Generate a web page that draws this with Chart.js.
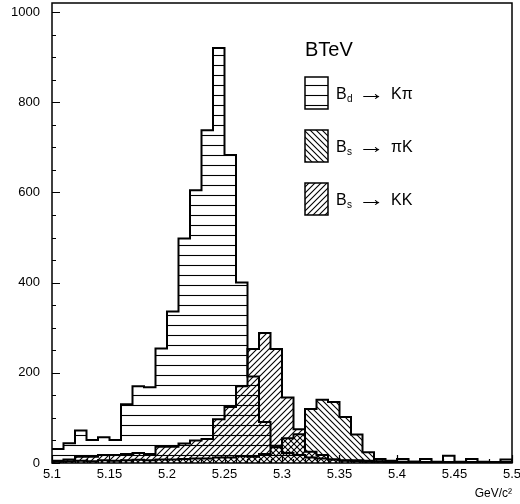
<!DOCTYPE html>
<html>
<head>
<meta charset="utf-8">
<script src="https://cdn.jsdelivr.net/npm/chart.js@4"></script>
<style>
  html, body { margin: 0; padding: 0; background: #fff; }
  #wrap { width: 520px; height: 504px; position: relative; }
</style>
</head>
<body>
<div id="wrap"><canvas id="massPlot"></canvas></div>
<script>
// lower edges of the 0.01 GeV/c^2 bins
const binLow = [5.10, 5.11, 5.12, 5.13, 5.14, 5.15, 5.16, 5.17, 5.18, 5.19,
                5.20, 5.21, 5.22, 5.23, 5.24, 5.25, 5.26, 5.27, 5.28, 5.29,
                5.30, 5.31, 5.32, 5.33, 5.34, 5.35, 5.36, 5.37, 5.38, 5.39,
                5.40, 5.41, 5.42, 5.43, 5.44, 5.45, 5.46, 5.47, 5.48, 5.49];
const binHigh = 5.50;

// Bd -> K pi
const bdKpi = [31, 44, 72, 51, 57, 51, 130, 170, 168, 254,
               336, 498, 605, 738, 920, 683, 400, 192, 91, 38,
               22, 18, 12, 10, 8, 5, 6, 5, 4, 3,
               9, 3, 9, 3, 16, 3, 9, 3, 2, 8];
// Bs -> pi K
const bsPiK = [3, 4, 5, 4, 6, 5, 6, 7, 6, 8,
               8, 9, 10, 10, 12, 12, 15, 14, 20, 35,
               55, 64, 120, 140, 135, 102, 63, 24, 9, 5,
               3, 3, 2, 2, 2, 1, 2, 1, 1, 2];
// Bs -> K K
const bsKK = [5, 8, 14, 14, 18, 18, 20, 22, 20, 36,
              36, 43, 50, 53, 97, 124, 170, 253, 288, 253,
              145, 75, 25, 18, 8, 6, 4, 3, 3, 2,
              2, 2, 1, 2, 1, 1, 1, 1, 1, 1];

const xTickValues = [5.1, 5.15, 5.2, 5.25, 5.3, 5.35, 5.4, 5.45, 5.5];
const xTickLabels = ['5.1', '5.15', '5.2', '5.25', '5.3', '5.35', '5.4', '5.45', '5.5'];
const yTickValues = [0, 200, 400, 600, 800, 1000];
const yTickLabels = ['0', '200', '400', '600', '800', '1000'];

const legendTitle = 'BTeV';
const legendParent = ['B', 'B', 'B'];
const legendSub = ['d', 's', 's'];
const legendFinal = ['K\u03c0', '\u03c0K', 'KK'];

const FONT = '"Liberation Sans", Arial, Helvetica, sans-serif';

// hatch fills, transparent so overlaps cross
function makeHatch(kind) {
  const s = kind === 'horiz' ? 10 : 6;
  const c = document.createElement('canvas');
  c.width = s; c.height = s;
  const g = c.getContext('2d');
  g.strokeStyle = '#000';
  g.lineWidth = 1.1;
  g.beginPath();
  if (kind === 'horiz') {
    g.moveTo(0, 5.5); g.lineTo(s, 5.5);
  } else if (kind === 'fwd') {
    g.moveTo(-2, s + 2); g.lineTo(s + 2, -2);
    g.moveTo(-2, 2); g.lineTo(2, -2);
    g.moveTo(s - 2, s + 2); g.lineTo(s + 2, s - 2);
  } else {
    g.moveTo(-2, -2); g.lineTo(s + 2, s + 2);
    g.moveTo(s - 2, -2); g.lineTo(s + 2, 2);
    g.moveTo(-2, s - 2); g.lineTo(2, s + 2);
  }
  g.stroke();
  return g.createPattern(c, 'repeat');
}

const hatchHoriz = makeHatch('horiz');
const hatchBack = makeHatch('back');
const hatchFwd = makeHatch('fwd');
const legendHatch = [hatchHoriz, hatchBack, hatchFwd];

function stepPoints(vals) {
  const pts = binLow.map((x, i) => ({ x: x, y: vals[i] }));
  pts.push({ x: binHigh, y: 0 });
  return pts;
}

function histo(label, vals, pattern) {
  return {
    label: label,
    data: stepPoints(vals),
    stepped: true,
    fill: 'origin',
    backgroundColor: pattern,
    borderColor: '#000',
    borderWidth: 2,
    pointRadius: 0,
    tension: 0
  };
}

// frame, inward ticks and legend box
const decorations = {
  id: 'decorations',
  afterDatasetsDraw(chart) {
    const ctx = chart.ctx;
    const a = chart.chartArea;
    const xs = chart.scales.x, ys = chart.scales.y;
    ctx.save();
    ctx.strokeStyle = '#000';
    ctx.lineWidth = 1.5;
    ctx.strokeRect(a.left, a.top, a.right - a.left, a.bottom - a.top);

    ctx.lineWidth = 1.2;
    ctx.beginPath();
    for (let v = 0; v <= 1000; v += 50) {
      const y = Math.round(ys.getPixelForValue(v)) + 0.5;
      const len = yTickValues.includes(v) ? 8 : 4;
      ctx.moveTo(a.left, y); ctx.lineTo(a.left + len, y);
    }
    for (let k = 0; k <= 40; k++) {
      const x = Math.round(xs.getPixelForValue(5.1 + k * 0.01)) + 0.5;
      const len = k % 5 === 0 ? 8 : 4;
      ctx.moveTo(x, a.bottom); ctx.lineTo(x, a.bottom - len);
    }
    ctx.stroke();

    // legend
    ctx.fillStyle = '#000';
    ctx.textBaseline = 'alphabetic';
    ctx.textAlign = 'left';
    ctx.font = '20px ' + FONT;
    ctx.fillText(legendTitle, 305, 56);

    for (let i = 0; i < legendFinal.length; i++) {
      const top = 77 + i * 53;
      const cy = top + 16;
      ctx.fillStyle = legendHatch[i];
      ctx.fillRect(305, top, 23, 32);
      ctx.lineWidth = 1.5;
      ctx.strokeRect(305, top, 23, 32);
      ctx.fillStyle = '#000';
      ctx.font = '16px ' + FONT;
      ctx.fillText(legendParent[i], 336, cy + 6);
      ctx.font = '10px ' + FONT;
      ctx.fillText(legendSub[i], 347, cy + 8.5);
      ctx.font = '22px ' + FONT;
      const arrow = '\u2192';
      const w = ctx.measureText(arrow).width;
      ctx.save();
      ctx.translate(358, cy + 7);
      ctx.scale(27 / w, 1);
      ctx.fillText(arrow, 0, 0);
      ctx.restore();
      ctx.font = '16px ' + FONT;
      ctx.fillText(legendFinal[i], 391, cy + 6);
    }
    ctx.restore();
  }
};

Chart.defaults.font.family = FONT;
Chart.defaults.color = '#000';

new Chart(document.getElementById('massPlot'), {
  type: 'line',
  data: {
    datasets: [
      histo('Bd \u2192 K\u03c0', bdKpi, hatchHoriz),
      histo('Bs \u2192 \u03c0K', bsPiK, hatchBack),
      histo('Bs \u2192 KK', bsKK, hatchFwd)
    ]
  },
  options: {
    responsive: true,
    maintainAspectRatio: false,
    animation: false,
    layout: { padding: { top: 3, right: 8, left: 0, bottom: 0 } },
    plugins: {
      legend: { display: false },
      tooltip: { enabled: false }
    },
    scales: {
      x: {
        type: 'linear',
        min: 5.1,
        max: 5.5,
        grid: { display: false, drawTicks: false },
        border: { display: false },
        afterBuildTicks: s => { s.ticks = xTickValues.map(v => ({ value: v })); },
        afterFit: s => {
          s.height = 41;
          s.paddingLeft = 0; s.paddingRight = 0;
        },
        ticks: {
          padding: 4,
          maxRotation: 0,
          autoSkip: false,
          font: { size: 13 },
          callback: (v, i) => xTickLabels[i]
        },
        title: {
          display: true,
          text: 'GeV/c\u00b2',
          align: 'end',
          font: { size: 12 },
          padding: { top: 0, bottom: 3 }
        }
      },
      y: {
        min: 0,
        max: 1020,
        grid: { display: false, drawTicks: false },
        border: { display: false },
        afterBuildTicks: s => { s.ticks = yTickValues.map(v => ({ value: v })); },
        afterFit: s => {
          s.width = 52;
          s.paddingTop = 0; s.paddingBottom = 0;
        },
        ticks: {
          padding: 12,
          font: { size: 13 },
          callback: (v, i) => yTickLabels[i]
        }
      }
    }
  },
  plugins: [decorations]
});
</script>
</body>
</html>
